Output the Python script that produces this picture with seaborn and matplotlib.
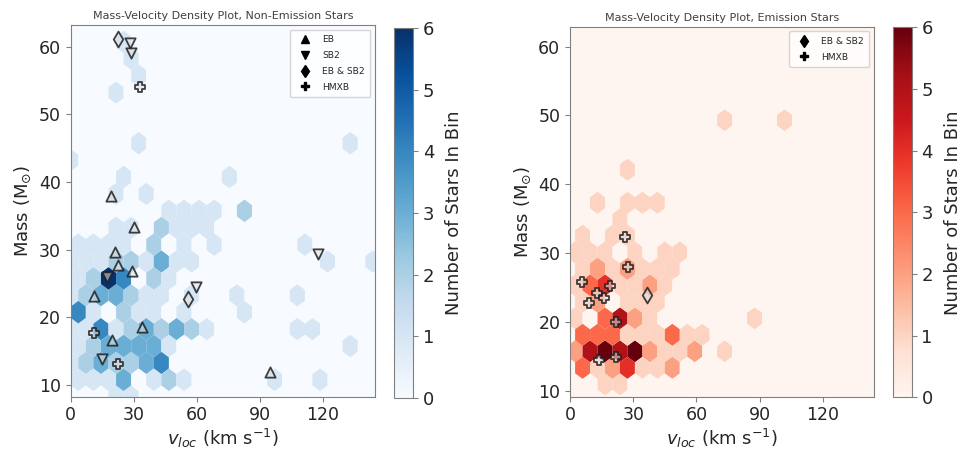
import numpy as np
import pandas as pd
import matplotlib
matplotlib.use("Agg")
import matplotlib.pyplot as plt
from matplotlib.lines import Line2D
import seaborn as sns

sns.set_style("ticks")
plt.rcParams["font.family"] = ["DejaVu Sans"]
plt.rcParams["axes.edgecolor"] = "0.5"
plt.rcParams["xtick.color"] = "0.5"
plt.rcParams["ytick.color"] = "0.5"
plt.rcParams["xtick.labelcolor"] = "0.15"
plt.rcParams["ytick.labelcolor"] = "0.15"

# ---- non-emission stars: occupied hex bins (bin centre vloc, mass, number of stars)
ne_vloc = [21.6, 28.8,
           3.6, 10.8, 18.0, 25.2, 39.6, 46.8, 54.0, 97.2, 118.8,
           0.0, 7.2, 14.4, 21.6, 28.8, 36.0, 43.2,
           3.6, 10.8, 18.0, 25.2, 32.4, 39.6, 46.8, 133.2,
           0.0, 7.2, 14.4, 21.6, 28.8, 36.0, 43.2, 50.4, 57.6, 64.8, 108.0, 115.2,
           3.6, 10.8, 25.2, 32.4, 39.6, 54.0, 82.8,
           0.0, 7.2, 14.4, 21.6, 28.8, 36.0, 43.2, 57.6, 79.2, 108.0,
           3.6, 10.8, 18.0, 25.2, 39.6, 46.8,
           0.0, 7.2, 14.4, 21.6, 28.8, 36.0, 43.2, 50.4, 57.6, 122.4, 144.0,
           3.6, 10.8, 18.0, 25.2, 39.6, 54.0, 68.4, 111.6,
           21.6, 28.8, 43.2, 50.4, 57.6, 64.8,
           46.8, 54.0, 61.2, 68.4, 82.8,
           21.6, 36.0,
           25.2, 75.6,
           0.0,
           32.4, 133.2,
           21.6, 32.4, 28.8, 25.2]
ne_mass = [8.3, 8.3,
           10.8, 10.8, 10.8, 10.8, 10.8, 10.8, 10.8, 10.8, 10.8,
           13.3, 13.3, 13.3, 13.3, 13.3, 13.3, 13.3,
           15.8, 15.8, 15.8, 15.8, 15.8, 15.8, 15.8, 15.8,
           18.3, 18.3, 18.3, 18.3, 18.3, 18.3, 18.3, 18.3, 18.3, 18.3, 18.3, 18.3,
           20.8, 20.8, 20.8, 20.8, 20.8, 20.8, 20.8,
           23.3, 23.3, 23.3, 23.3, 23.3, 23.3, 23.3, 23.3, 23.3, 23.3,
           25.8, 25.8, 25.8, 25.8, 25.8, 25.8,
           28.3, 28.3, 28.3, 28.3, 28.3, 28.3, 28.3, 28.3, 28.3, 28.3, 28.3,
           30.8, 30.8, 30.8, 30.8, 30.8, 30.8, 30.8, 30.8,
           33.3, 33.3, 33.3, 33.3, 33.3, 33.3,
           35.8, 35.8, 35.8, 35.8, 35.8,
           38.2, 38.2,
           40.7, 40.7,
           43.2,
           45.7, 45.7,
           53.2, 55.7, 58.2, 60.7]
ne_count = [1, 1,
            1, 1, 1, 3, 1, 2, 1, 1, 1,
            1, 2, 3, 2, 2, 3, 4,
            1, 2, 3, 3, 3, 3, 1, 1,
            1, 1, 4, 1, 2, 3, 2, 3, 2, 1, 1, 1,
            4, 1, 2, 1, 1, 1, 1,
            1, 2, 3, 3, 2, 1, 1, 1, 1, 1,
            1, 2, 6, 4, 2, 1,
            1, 1, 1, 2, 2, 1, 3, 1, 1, 1, 1,
            1, 1, 1, 1, 2, 1, 1, 1,
            1, 1, 2, 1, 1, 1,
            1, 1, 1, 1, 2,
            1, 1,
            1, 1,
            1,
            1, 1,
            1, 1, 1, 1]

# ---- emission stars: occupied hex bins
em_vloc = [16.6, 23.7,
           5.95, 13.05, 20.15, 27.25, 34.35, 41.45, 48.55,
           2.4, 9.5, 16.6, 23.7, 30.8, 37.9, 45.0, 52.1, 59.2, 73.4,
           5.95, 13.05, 20.15, 27.25, 34.35, 41.45, 48.55, 55.65, 62.75,
           2.4, 16.6, 23.7, 30.8, 37.9, 87.6,
           5.95, 13.05, 27.25, 34.35, 41.45,
           2.4, 9.5, 16.6, 23.7, 30.8, 37.9, 45.0,
           5.95, 13.05, 20.15, 27.25, 34.35, 41.45, 48.55,
           2.4, 9.5, 16.6, 30.8, 45.0, 52.1,
           5.95, 20.15, 27.25,
           23.7,
           13.05, 27.25, 34.35, 41.45,
           27.25,
           73.4, 101.8]
em_mass = [10.9, 10.9,
           13.3, 13.3, 13.3, 13.3, 13.3, 13.3, 13.3,
           15.7, 15.7, 15.7, 15.7, 15.7, 15.7, 15.7, 15.7, 15.7, 15.7,
           18.1, 18.1, 18.1, 18.1, 18.1, 18.1, 18.1, 18.1, 18.1,
           20.5, 20.5, 20.5, 20.5, 20.5, 20.5,
           22.9, 22.9, 22.9, 22.9, 22.9,
           25.3, 25.3, 25.3, 25.3, 25.3, 25.3, 25.3,
           27.7, 27.7, 27.7, 27.7, 27.7, 27.7, 27.7,
           30.1, 30.1, 30.1, 30.1, 30.1, 30.1,
           32.5, 32.5, 32.5,
           34.9,
           37.3, 37.3, 37.3, 37.3,
           42.1,
           49.3, 49.3]
em_count = [1, 1,
            3, 1, 2, 4, 1, 1, 2,
            2, 5, 6, 5, 6, 2, 1, 1, 2, 1,
            3, 3, 3, 1, 1, 1, 3, 1, 1,
            1, 3, 5, 2, 1, 1,
            1, 2, 1, 1, 1,
            1, 3, 4, 1, 1, 2, 1,
            1, 2, 1, 2, 1, 1, 1,
            1, 1, 1, 1, 1, 1,
            1, 1, 1,
            1,
            1, 1, 1, 1,
            1,
            1, 1]

# ---- binary / HMXB markers
ne_eb_vloc = [19.2, 30.0, 21.1, 22.7, 29.2, 11.2, 33.9, 19.7, 94.9]
ne_eb_mass = [37.9, 33.3, 29.7, 27.8, 26.9, 23.2, 18.6, 16.7, 12.0]
ne_sb2_vloc = [28.2, 28.6, 17.1, 59.6, 14.9, 117.9]
ne_sb2_mass = [60.5, 59.0, 26.0, 24.5, 13.8, 29.4]
ne_ebsb2_vloc = [22.7, 55.7]
ne_ebsb2_mass = [61.2, 22.7]
ne_hmxb_vloc = [33.0, 11.2, 22.4]
ne_hmxb_mass = [54.1, 17.7, 13.2]

em_ebsb2_vloc = [36.7]
em_ebsb2_mass = [23.9]
em_hmxb_vloc = [26.1, 27.7, 5.5, 19.0, 13.0, 16.1, 9.0, 21.7, 13.8, 21.8]
em_hmxb_mass = [32.3, 27.9, 25.8, 25.2, 24.2, 23.4, 22.7, 20.0, 14.5, 14.8]

MARKERS = {"EB": "^", "SB2": "v", "EB & SB2": "d", "HMXB": "P"}
SIZES = {"EB": 55, "SB2": 55, "EB & SB2": 65, "HMXB": 60}


def draw_panel(fig, ax_rect, cax_rect, vloc, mass, count, extent, xlim, ylim,
               cmap, title, overlays):
    ax = fig.add_axes(ax_rect)
    cax = fig.add_axes(cax_rect)
    cm = plt.get_cmap(cmap)
    ax.set_facecolor(cm(0.0))
    hb = ax.hexbin(vloc, mass, C=count, reduce_C_function=np.sum, mincnt=0,
                   gridsize=20, extent=extent, cmap=cmap, vmin=0, vmax=6,
                   linewidths=0.0)
    for label, (xs, ys) in overlays.items():
        pts = pd.DataFrame({"vloc": xs, "mass": ys})
        sns.scatterplot(data=pts, x="vloc", y="mass", ax=ax, marker=MARKERS[label],
                        s=SIZES[label], color=(0.88, 0.88, 0.88, 0.55),
                        edgecolor=(0.12, 0.12, 0.12, 0.85), linewidth=1.3,
                        legend=False, zorder=3)
    handles = [Line2D([], [], marker=MARKERS[k], color="k", linestyle="None",
                      markersize=6) for k in overlays]
    ax.legend(handles, list(overlays), loc="upper right", fontsize=6.6,
              frameon=True, borderpad=0.6, labelspacing=0.75, handletextpad=0.9,
              fancybox=True, framealpha=0.8)
    ax.set_xlim(*xlim)
    ax.set_ylim(*ylim)
    ax.set_xticks([0, 30, 60, 90, 120])
    ax.set_yticks([10, 20, 30, 40, 50, 60])
    ax.tick_params(labelsize=12.5, length=3.5, width=0.8)
    ax.set_xlabel(r"$v_{loc}$ (km s$^{-1}$)", fontsize=13, color="0.15", labelpad=2)
    ax.set_ylabel(r"Mass (M$_{\odot}$)", fontsize=13, color="0.15", labelpad=4)
    ax.set_title(title, fontsize=8, color="0.25", pad=4)
    for sp in ax.spines.values():
        sp.set_visible(True)
        sp.set_linewidth(0.8)

    cb = fig.colorbar(hb, cax=cax, ticks=range(0, 7))
    cb.outline.set_edgecolor("0.5")
    cb.outline.set_linewidth(0.8)
    cb.ax.tick_params(labelsize=13, length=3.5, width=0.8)
    cb.set_label("Number of Stars In Bin", fontsize=13, color="0.15", labelpad=8)
    return ax


fig = plt.figure(figsize=(9.66, 4.51), dpi=100)

draw_panel(fig, [0.0732, 0.1204, 0.315, 0.8242], [0.4079, 0.1175, 0.0197, 0.8204],
           ne_vloc, ne_mass, ne_count, (0.0, 144.0, 8.3, 63.2), (0, 145), (8.3, 63.2),
           "Blues", "Mass-Velocity Density Plot, Non-Emission Stars",
           {"EB": (ne_eb_vloc, ne_eb_mass), "SB2": (ne_sb2_vloc, ne_sb2_mass),
            "EB & SB2": (ne_ebsb2_vloc, ne_ebsb2_mass),
            "HMXB": (ne_hmxb_vloc, ne_hmxb_mass)})

draw_panel(fig, [0.5901, 0.1204, 0.3147, 0.8204], [0.9248, 0.1191, 0.019, 0.8204],
           em_vloc, em_mass, em_count, (2.4, 144.4, 10.9, 63.7), (0, 144.3), (9.1, 62.9),
           "Reds", "Mass-Velocity Density Plot, Emission Stars",
           {"EB & SB2": (em_ebsb2_vloc, em_ebsb2_mass),
            "HMXB": (em_hmxb_vloc, em_hmxb_mass)})

fig.savefig("out.png", dpi=100)
